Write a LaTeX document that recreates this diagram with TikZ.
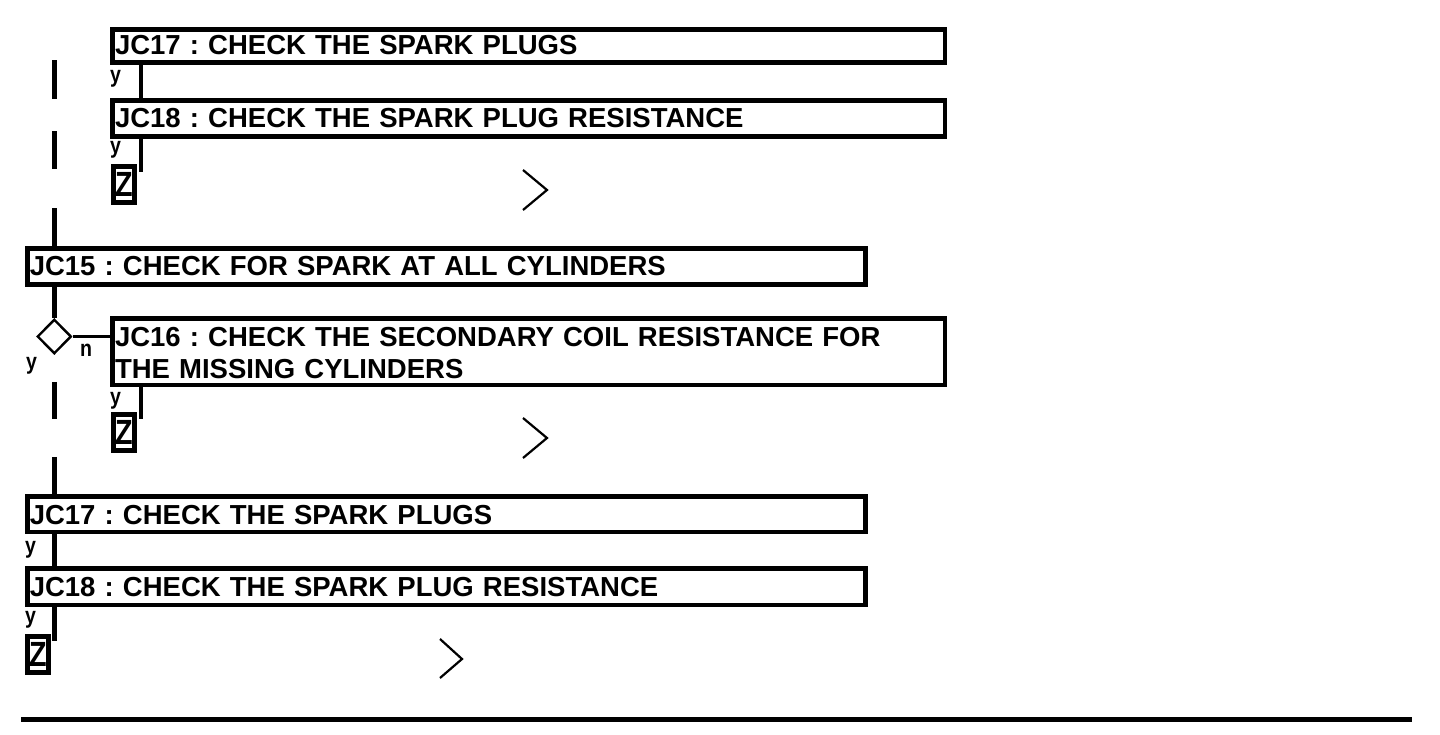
\documentclass[tikz,border=0pt]{standalone}
\usepackage{fontspec}
\usepackage{graphicx}
\setmainfont{Liberation Sans}
\frenchspacing
\usetikzlibrary{shapes.geometric}
\newcommand\bxfont{\fontsize{27.5}{32}\selectfont\bfseries\frenchspacing}
\newcommand\lbfont{\fontsize{23}{25}\selectfont\bfseries}
\newcommand\zfont{\fontsize{35}{36}\selectfont\bfseries}
\begin{document}
\begin{tikzpicture}[x=1pt,y=-1pt,
  box/.style={draw, line width=4.5pt, rectangle, anchor=north west, inner xsep=2.5pt, inner ysep=0pt, font=\bxfont, align=left},
  conn/.style={line width=4.6pt},
  thin/.style={line width=2.4pt},
  chev/.style={line width=2.2pt},
  lbl/.style={inner sep=0pt, font=\lbfont},
  zbox/.style={draw, line width=5pt, rectangle, inner sep=0pt, minimum width=21pt, minimum height=36pt, font=\zfont},
  dia/.style={draw, diamond, line width=2.4pt, inner sep=0pt, minimum width=34pt, minimum height=34.5pt}
]
\useasboundingbox (0,0) rectangle (1440,734);

% boxes
\node[box, text width=827.5pt, text height=24.75pt, text depth=8.45pt] (A) at (110.25,27.25) {JC17 : CHECK THE SPARK PLUGS};
\node[box, text width=827.5pt, text height=27.25pt, text depth=8.75pt] (B) at (110.25,98.25) {JC18 : CHECK THE SPARK PLUG RESISTANCE};
\node[box, text width=833.25pt, text height=27.25pt, text depth=8.5pt] (C) at (25,246.25) {JC15 : CHECK FOR SPARK AT ALL CYLINDERS};
\node[box, text width=827.5pt, text height=28.25pt, text depth=38.25pt] (D) at (110.25,316.25) {JC16 : CHECK THE SECONDARY COIL RESISTANCE FOR\\THE MISSING CYLINDERS};
\node[box, text width=833.25pt, text height=28pt, text depth=7.5pt] (E) at (25,494) {JC17 : CHECK THE SPARK PLUGS};
\node[box, text width=833.25pt, text height=27.75pt, text depth=8.75pt] (F) at (25,566.25) {JC18 : CHECK THE SPARK PLUG RESISTANCE};

% decision
\node[dia] (dia) at (54.3,336.5) {};

% Z boxes
\node[zbox] (Z1) at (124,184.5) {\scalebox{0.82}[1]{Z}};
\node[zbox] (Z2) at (124,432.5) {\scalebox{0.82}[1]{Z}};
\node[zbox] (Z3) at (37.8,654) {\scalebox{0.82}[1]{Z}};

% labels
\node[lbl] (y1) at (115.5,79) {\scalebox{0.85}[1]{y}};
\node[lbl] (y2) at (115.5,150) {\scalebox{0.85}[1]{y}};
\node[lbl] (y3) at (31.5,366) {\scalebox{0.85}[1]{y}};
\node[lbl] (n1) at (86,350.5) {\scalebox{0.85}[1]{n}};
\node[lbl] (y4) at (115.5,400.5) {\scalebox{0.85}[1]{y}};
\node[lbl] (y5) at (30.5,549.5) {\scalebox{0.85}[1]{y}};
\node[lbl] (y6) at (30.5,620) {\scalebox{0.85}[1]{y}};

% coordinates
\coordinate (colL) at (54.2,60);
\coordinate (colR) at (140.8,0);
\coordinate (bEnd) at (140.8,171.7);
\coordinate (dEnd) at (140.8,419);
\coordinate (fEnd) at (54.2,640.7);
\coordinate (ruleL) at (21,719.5);
\coordinate (ruleR) at (1411.7,719.5);

% connectors
\draw[conn] (colR |- A.south) -- (colR |- B.north);
\draw[conn] (colR |- B.south) -- (bEnd);
\draw[conn, dash pattern=on 39pt off 32pt on 38pt off 39pt on 60pt] (colL) -- (colL |- C.north);
\draw[conn] (dia.north |- C.south) -- (dia.north);
\draw[thin] (dia.east) -- (dia.east -| D.west);
\draw[conn, dash pattern=on 0pt off 27pt on 37pt off 38pt on 60pt] (dia.south) -- (dia.south |- E.north);
\draw[conn] (colR |- D.south) -- (dEnd);
\draw[conn] (colL |- E.south) -- (colL |- F.north);
\draw[conn] (colL |- F.south) -- (fEnd);

% chevrons
\draw[chev] (523,170) -- (547,190) -- (523,210);
\draw[chev] (523,418) -- (547,438) -- (523,458);
\draw[chev] (440,639) -- (462,659) -- (440,678);

% bottom rule
\draw[line width=5.5pt] (ruleL) -- (ruleR);
\end{tikzpicture}
\end{document}
